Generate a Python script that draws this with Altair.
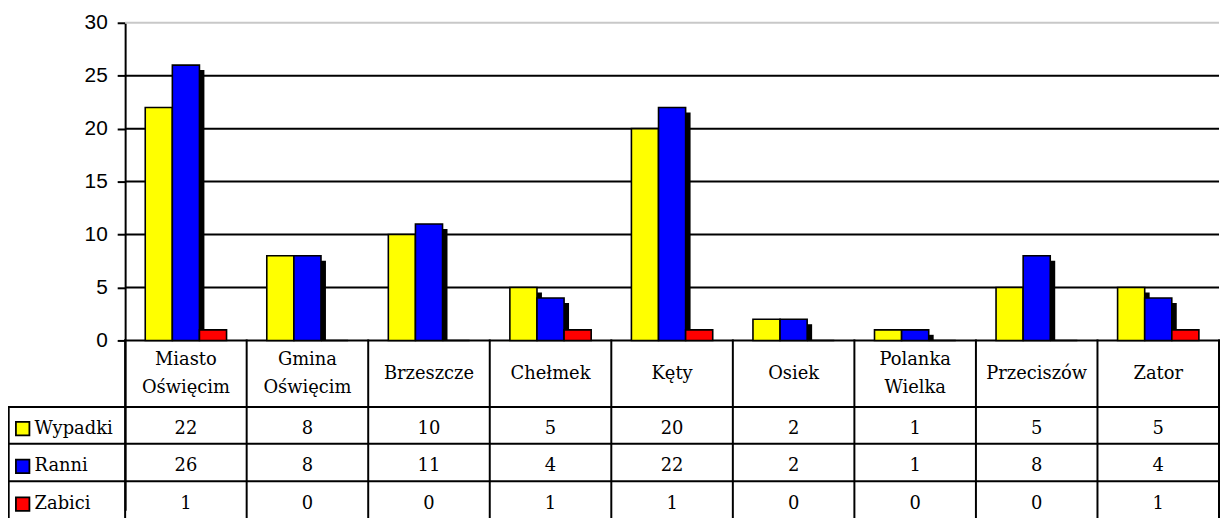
import altair as alt
import pandas as pd

# ---- data ----
categories = ["Miasto\nOświęcim", "Gmina\nOświęcim", "Brzeszcze", "Chełmek", "Kęty",
              "Osiek", "Polanka\nWielka", "Przeciszów", "Zator"]
series_names = ["Wypadki", "Ranni", "Zabici"]
series_colors = ["#ffff00", "#0000ff", "#ff0000"]
wypadki = [22, 8, 10, 5, 20, 2, 1, 5, 5]
ranni = [26, 8, 11, 4, 22, 2, 1, 8, 4]
zabici = [1, 0, 0, 1, 1, 0, 0, 0, 1]
y_ticks = [0, 5, 10, 15, 20, 25, 30]
values = [wypadki, ranni, zabici]
shadow_series = ["Wypadki", "Ranni"]

# ---- layout (data units) ----
PX_X = 122.45
X0 = -116 / PX_X
X_LEFT = -117.3 / PX_X
PX_Y = 320 / 30
VIEW_W = 1218
VIEW_H = 491
Y0 = 30 - VIEW_H / PX_Y
Y_BOTTOM = -16.7
HEADER_Y = -3.14
LINE_H = 28
ROW_Y = [-8.33, -11.9, -15.47]
ROW_LINES = [-6.28, -9.75, -13.31]
BAR_W = 0.223
BAR_START = 0.5 - 1.5 * BAR_W
LEG_SQ_X = -0.843
LEG_TX_X = -0.745
N = len(categories)
SANS = "Liberation Sans, Arial, sans-serif"
SERIF = "DejaVu Serif"
TXT_SIZE = 18

bars = pd.DataFrame([{"ci": i, "si": k, "series": s, "v": values[k][i]}
                     for k, s in enumerate(series_names) for i in range(N)])
header = pd.DataFrame({
    "x": [i + 0.5 for i in range(N)],
    "y": [HEADER_Y + (c.count("\n") * LINE_H / 2) / PX_Y for c in categories],
    "label": categories})
cells = pd.DataFrame([{"x": i + 0.5, "y": ROW_Y[k], "v": values[k][i]}
                      for k in range(3) for i in range(N)])
legend = pd.DataFrame({"series": series_names, "y": ROW_Y,
                       "xs": LEG_SQ_X, "xt": LEG_TX_X})
grid = pd.DataFrame({"v": [t for t in y_ticks if 0 < t < 30], "xa": 0, "xb": N})
top = pd.DataFrame({"v": [30], "xa": 0, "xb": N})
hlines = pd.DataFrame({"v": [0] + ROW_LINES,
                       "xa": [0] + [X_LEFT] * len(ROW_LINES), "xb": N})
vlines = pd.DataFrame({"x": list(range(0, N + 1)) + [X_LEFT],
                       "ya": [0] * (N + 1) + [ROW_LINES[0]], "yb": Y_BOTTOM})

xscale = alt.Scale(domain=[X0, N], nice=False, zero=False)
yscale = alt.Scale(domain=[Y0, 30], nice=False, zero=False)
yaxis = alt.Axis(values=y_ticks, grid=False, offset=-116, title=None,
                 domainColor="black", domainWidth=2, tickColor="black", tickWidth=2,
                 tickSize=8, labelFont=SANS, labelFontSize=21,
                 labelColor="black", labelPadding=10, labelFlush=False)


def X(f):
    return alt.X(f, type="quantitative", scale=xscale, axis=None)


def Y(f):
    return alt.Y(f, type="quantitative", scale=yscale, axis=yaxis)


fill = alt.Fill("series:N", scale=alt.Scale(domain=series_names, range=series_colors), legend=None)

grid_l = alt.Chart(grid).mark_rule(color="black", strokeWidth=2).encode(
    x=X("xa"), x2=alt.X2("xb"), y=Y("v"))
top_l = alt.Chart(top).mark_rule(color="#c8c8c8", strokeWidth=2).encode(
    x=X("xa"), x2=alt.X2("xb"), y=Y("v"))
h_l = alt.Chart(hlines).mark_rule(color="black", strokeWidth=2, strokeCap="square").encode(
    x=X("xa"), x2=alt.X2("xb"), y=Y("v"))
v_l = alt.Chart(vlines).mark_rule(color="black", strokeWidth=2, strokeCap="square").encode(
    x=X("x"), y=Y("ya"), y2=alt.Y2("yb"))

bar_base = alt.Chart(bars).transform_calculate(
    bx=f"datum.ci + {BAR_START} + datum.si * {BAR_W}",
    bx2=f"datum.ci + {BAR_START} + (datum.si + 1) * {BAR_W}",
    zero="0")
shadow_l = bar_base.transform_filter(
    alt.FieldOneOfPredicate(field="series", oneOf=shadow_series)
).mark_rect(color="black", xOffset=5, x2Offset=5, yOffset=5).encode(
    x=X("bx:Q"), x2=alt.X2("bx2:Q"), y=Y("v"), y2=alt.Y2("zero:Q"))
bar_l = bar_base.mark_rect(stroke="black", strokeWidth=1.6).encode(
    x=X("bx:Q"), x2=alt.X2("bx2:Q"), y=Y("v"), y2=alt.Y2("zero:Q"), fill=fill)

header_l = alt.Chart(header).mark_text(font=SERIF, fontSize=TXT_SIZE, lineBreak="\n",
                                       lineHeight=LINE_H, baseline="middle", align="center",
                                       color="black").encode(
    x=X("x"), y=Y("y"), text="label:N")
cells_l = alt.Chart(cells).mark_text(font=SERIF, fontSize=TXT_SIZE, baseline="middle",
                                     align="center", color="black").encode(
    x=X("x"), y=Y("y"), text=alt.Text("v:Q"))
leg_sq = alt.Chart(legend).mark_square(size=185, stroke="black", strokeWidth=1.8,
                                       opacity=1).encode(
    x=X("xs"), y=Y("y"), fill=fill)
leg_tx = alt.Chart(legend).mark_text(font=SERIF, fontSize=TXT_SIZE, baseline="middle",
                                     align="left", color="black").encode(
    x=X("xt"), y=Y("y"), text="series:N")

chart = alt.layer(grid_l, top_l, h_l, v_l, shadow_l, bar_l, header_l, cells_l, leg_sq, leg_tx).properties(
    width=VIEW_W, height=VIEW_H,
    padding={"left": 2, "top": 13, "right": 2, "bottom": 6},
    autosize=alt.AutoSizeParams(type="none"),
    background="white",
).configure_view(stroke=None)

chart.save("out.html", embed_options={"renderer": "svg", "actions": False})
